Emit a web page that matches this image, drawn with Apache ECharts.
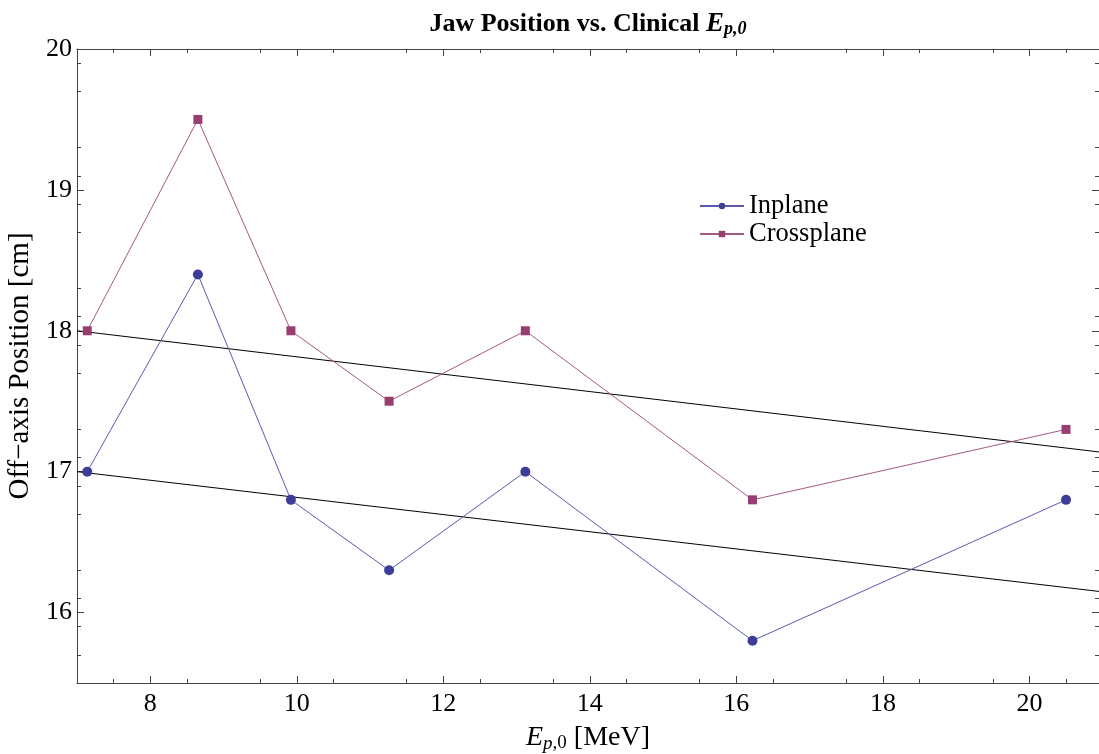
<!DOCTYPE html>
<html>
<head>
<meta charset="utf-8">
<script src="https://cdn.jsdelivr.net/npm/echarts@6/dist/echarts.min.js"></script>
<style>html,body{margin:0;padding:0;background:#fff;}#c{width:1099px;height:754px;}</style>
</head>
<body>
<div id="c"></div>
<script>
const energies = [7.14, 8.65, 9.92, 11.26, 13.12, 16.22, 20.50];
const inplane = [17.0, 18.4, 16.8, 16.3, 17.0, 15.8, 16.8];
const crossplane = [18.0, 19.5, 18.0, 17.5, 18.0, 16.8, 17.3];
const fitUpperX = [7, 20.95];
const fitUpperY = [18.0, 17.14];
const fitLowerX = [7, 20.95];
const fitLowerY = [17.0, 16.15];
const xTicks = [8, 10, 12, 14, 16, 18, 20];
const yTicks = [16, 17, 18, 19, 20];

const serif = '"Liberation Serif", "DejaVu Serif", serif';
const blue = '#3D3D99';
const purple = '#993D71';
const pair = (xs, ys) => xs.map((x, i) => [x, ys[i]]);
const tickStyle = {color: '#444', width: 1};

const chart = echarts.init(document.getElementById('c'));
chart.setOption({
  animation: false,
  backgroundColor: '#fff',
  title: {
    text: '{b|Jaw Position vs. Clinical }{e|E}{s|p,0}',
    left: 583, top: 5, textAlign: 'center',
    textStyle: {
      rich: {
        b: {fontFamily: serif, fontWeight: 'bold', fontSize: 26, color: '#000'},
        e: {fontFamily: serif, fontWeight: 'bold', fontStyle: 'italic', fontSize: 27, color: '#000'},
        s: {fontFamily: serif, fontWeight: 'bold', fontStyle: 'italic', fontSize: 18, color: '#000', verticalAlign: 'bottom', padding: [10, 0, 0, 0]}
      }
    }
  },
  legend: {
    orient: 'vertical', left: 694, top: 187,
    itemWidth: 44, itemHeight: 8, itemGap: 0,
    data: ['Inplane', 'Crossplane'],
    textStyle: {fontFamily: serif, fontSize: 26.5, color: '#000', lineHeight: 28, padding: [0, 0, 0, 0]}
  },
  grid: {left: 77, top: 49, width: 1022, bottom: 71, outerBoundsMode: 'none', containLabel: false},
  xAxis: [
    {
      type: 'value', min: 7, max: 20.95, interval: 2, position: 'bottom',
      axisLine: {show: true, lineStyle: tickStyle},
      splitLine: {show: false},
      axisTick: {show: true, inside: true, length: 7, lineStyle: tickStyle, customValues: xTicks},
      minorTick: {show: true, splitNumber: 4, length: 4, lineStyle: tickStyle},
      axisLabel: {fontFamily: serif, fontSize: 26, color: '#000', margin: 8, customValues: xTicks},
      name: '{e|E}{s|p}{n|,0} [MeV]', nameLocation: 'middle', nameGap: 40,
      nameTextStyle: {fontFamily: serif, fontSize: 28, color: '#000',
        rich: {
          e: {fontFamily: serif, fontStyle: 'italic', fontSize: 28, color: '#000'},
          s: {fontFamily: serif, fontStyle: 'italic', fontSize: 19, color: '#000', verticalAlign: 'bottom', padding: [11, 0, 0, 0]},
          n: {fontFamily: serif, fontSize: 19, color: '#000', verticalAlign: 'bottom', padding: [11, 0, 0, 0]}
        }}
    },
    {
      type: 'value', min: 7, max: 20.95, interval: 2, position: 'top',
      axisLine: {show: true, lineStyle: tickStyle},
      splitLine: {show: false},
      axisTick: {show: true, inside: true, length: 7, lineStyle: tickStyle, customValues: xTicks},
      minorTick: {show: true, splitNumber: 4, length: 4, lineStyle: tickStyle},
      axisLabel: {show: false}
    }
  ],
  yAxis: [
    {
      type: 'value', min: 15.5, max: 20, interval: 1, position: 'left',
      axisLine: {show: true, lineStyle: tickStyle},
      splitLine: {show: false},
      axisTick: {show: true, inside: true, length: 7, lineStyle: tickStyle, customValues: yTicks},
      minorTick: {show: true, splitNumber: 5, length: 4, lineStyle: tickStyle},
      axisLabel: {fontFamily: serif, fontSize: 26, color: '#000', margin: 5, customValues: yTicks},
      name: 'Off\u2212axis Position [cm]', nameLocation: 'middle', nameGap: 34, nameRotate: 90,
      nameTextStyle: {fontFamily: serif, fontSize: 29, color: '#000'}
    },
    {
      type: 'value', min: 15.5, max: 20, interval: 1, position: 'right',
      axisLine: {show: true, lineStyle: tickStyle},
      splitLine: {show: false},
      axisTick: {show: true, inside: true, length: 7, lineStyle: tickStyle, customValues: yTicks},
      minorTick: {show: true, splitNumber: 5, length: 4, lineStyle: tickStyle},
      axisLabel: {show: false}
    }
  ],
  series: [
    {name: 'Upper fit', type: 'line', data: pair(fitUpperX, fitUpperY), symbol: 'none',
      lineStyle: {color: '#000', width: 1}, silent: true, z: 1},
    {name: 'Lower fit', type: 'line', data: pair(fitLowerX, fitLowerY), symbol: 'none',
      lineStyle: {color: '#000', width: 1}, silent: true, z: 1},
    {name: 'Inplane', type: 'line', data: pair(energies, inplane), symbol: 'circle', symbolSize: 10,
      itemStyle: {color: blue}, lineStyle: {color: '#5a5ab0', width: 1}, z: 3},
    {name: 'Crossplane', type: 'line', data: pair(energies, crossplane), symbol: 'rect', symbolSize: 9,
      itemStyle: {color: purple}, lineStyle: {color: '#a35a85', width: 1}, z: 2}
  ]
});
</script>
</body>
</html>
